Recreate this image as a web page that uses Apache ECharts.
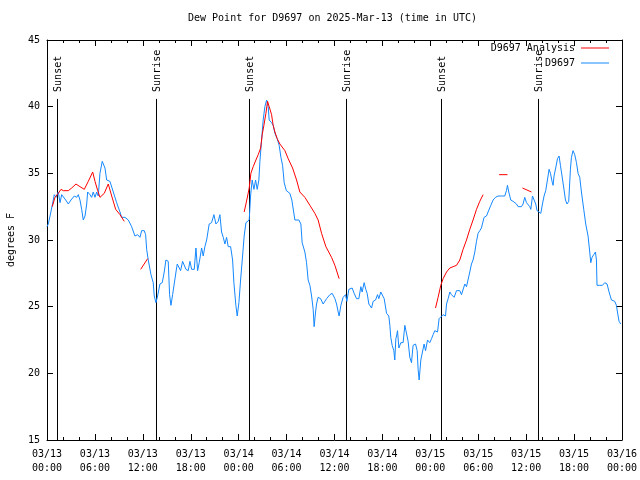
<!DOCTYPE html>
<html><head><meta charset="utf-8">
<script src="https://cdn.jsdelivr.net/npm/echarts@6/dist/echarts.min.js"></script>
<style>html,body{margin:0;padding:0;background:#fff}#c{width:640px;height:480px}</style>
</head><body><div id="c"></div>
<script>
// hours since 2025-03-13 00:00 UTC
const blueHours = [0.0,0.16,0.38,0.59,0.79,0.91,1.13,1.41,1.63,1.84,2.04,2.34,2.67,3.00,3.42,3.72,3.92,4.13,4.34,4.54,4.76,4.97,5.09,5.38,5.59,5.79,6.01,6.22,6.42,6.63,6.92,7.26,7.47,7.88,8.30,8.72,9.14,9.35,9.76,10.18,10.60,11.01,11.35,11.64,11.85,12.18,12.35,12.48,12.68,13.02,13.30,13.43,13.64,13.85,14.14,14.43,14.68,14.89,15.18,15.35,15.52,15.73,15.93,16.15,16.31,16.56,16.73,16.98,17.15,17.40,17.68,17.90,18.11,18.44,18.65,18.86,19.06,19.36,19.56,19.77,19.99,20.31,20.61,20.90,21.15,21.44,21.65,21.86,22.07,22.28,22.49,22.69,22.99,23.24,23.40,23.65,23.82,24.03,24.24,24.49,24.69,24.91,25.07,25.32,25.49,25.69,25.91,26.12,26.32,26.53,26.66,26.87,27.07,27.28,27.50,27.70,27.82,28.12,28.32,28.54,28.82,29.07,29.29,29.50,29.70,29.97,30.41,30.66,31.04,31.25,31.54,31.79,31.95,32.29,32.50,32.70,32.92,33.13,33.33,33.45,33.63,33.75,33.95,34.26,34.58,35.01,35.42,35.71,36.05,36.26,36.46,36.58,36.80,37.08,37.38,37.55,37.80,38.21,38.46,38.76,39.05,39.30,39.46,39.71,39.92,40.09,40.30,40.64,40.84,41.14,41.39,41.55,41.80,41.96,42.22,42.52,42.80,42.93,43.05,43.22,43.43,43.55,43.68,43.77,43.89,44.06,44.31,44.59,44.81,45.02,45.22,45.43,45.64,45.84,46.15,46.35,46.47,46.60,46.81,47.02,47.22,47.40,47.65,47.93,48.15,48.35,48.56,48.90,49.10,49.31,49.60,49.90,50.03,50.23,50.44,50.65,50.98,51.28,51.69,51.90,52.10,52.32,52.53,52.73,52.94,53.15,53.35,53.57,53.78,53.98,54.19,54.40,54.61,54.73,55.03,55.23,55.57,55.86,56.16,56.48,56.91,57.32,57.53,57.66,57.82,58.07,58.36,58.79,58.99,59.41,59.61,59.82,60.04,60.24,60.45,60.58,60.79,60.99,61.20,61.36,61.61,61.83,62.04,62.24,62.45,62.62,62.74,62.87,63.04,63.24,63.37,63.49,63.70,63.92,64.12,64.29,64.49,64.71,64.92,65.12,65.33,65.54,65.67,65.87,66.08,66.30,66.50,66.71,66.92,67.21,67.46,67.75,67.96,68.09,68.25,68.46,68.67,68.80,68.87,69.21,69.55,69.84,70.13,70.38,70.68,71.09,71.30,71.43,71.63,71.84];
const blueDew = [31.0,31.2,31.8,31.9,33.0,33.4,33.2,33.6,32.8,33.4,33.4,33.0,32.7,33.0,33.3,33.2,33.4,33.0,32.3,31.5,31.8,32.7,33.6,33.4,33.2,33.6,33.2,33.6,33.3,35.0,35.9,35.4,34.5,34.4,33.6,32.8,32.1,31.7,31.7,31.5,31.0,30.3,30.4,30.2,30.7,30.7,30.4,29.3,28.5,27.4,26.8,25.8,25.3,25.8,26.7,26.8,27.6,28.5,28.4,25.9,25.1,25.9,25.9,27.6,28.2,28.2,27.7,28.4,28.5,27.8,27.7,28.4,27.8,27.8,29.4,27.7,28.3,29.4,28.8,29.5,30.0,31.2,31.3,31.9,31.2,31.4,31.9,30.6,30.2,29.7,30.2,29.5,29.5,28.5,26.8,25.1,24.3,25.3,27.0,28.8,30.3,31.3,31.4,31.5,33.3,34.5,33.8,34.5,33.8,34.5,35.9,37.5,39.0,40.0,40.5,40.0,39.0,38.8,38.6,38.0,37.6,37.1,36.2,35.6,34.3,33.7,33.5,33.0,31.5,31.4,31.5,31.2,29.8,29.1,28.3,27.0,26.6,25.8,24.8,23.5,24.6,25.2,25.7,25.6,25.2,25.6,25.9,26.0,25.6,25.2,24.6,24.3,25.1,25.7,25.9,25.4,26.3,26.4,26.0,25.6,25.6,26.5,26.1,26.8,26.3,26.0,25.2,24.9,25.4,25.5,25.9,25.6,26.1,26.1,25.6,24.5,24.3,23.6,22.7,22.1,21.7,21.0,22.6,22.8,23.2,21.9,22.3,22.3,23.6,23.7,22.4,21.2,20.8,22.1,22.2,21.7,20.3,19.5,21.0,20.9,22.2,21.7,22.5,22.3,22.6,22.9,23.2,23.1,24.1,24.2,24.4,24.3,25.2,25.6,26.1,25.9,25.7,26.2,26.2,25.9,25.8,26.7,26.5,26.6,27.6,28.2,28.5,29.1,29.9,30.5,30.7,30.9,31.0,31.7,31.8,32.1,32.6,33.0,33.2,33.3,33.3,33.3,33.7,34.1,33.6,33.0,32.9,32.7,32.5,32.5,32.7,33.2,32.8,32.7,32.5,32.3,33.3,33.2,32.7,32.2,32.2,32.0,32.7,33.3,33.7,33.8,34.8,35.3,35.0,34.4,34.1,34.8,35.4,36.1,36.3,35.6,34.8,33.9,33.0,32.7,32.9,35.3,36.2,36.7,36.4,35.8,35.0,34.7,33.6,32.3,31.2,30.3,29.1,28.3,28.7,28.9,29.1,28.5,26.6,26.6,26.6,26.8,26.7,26.1,25.5,25.4,25.1,24.6,23.9,23.7];

const red1Hours = [0.66,1.00,1.41,1.75,2.04,2.67,3.09,3.63,4.13,4.67,5.17,5.72,6.01,6.35,6.63,7.17,7.67,8.10,8.60,9.14,9.67];
const red1Dew   = [32.5,33.2,33.5,33.8,33.7,33.7,33.9,34.2,34.0,33.8,34.4,35.1,34.4,33.7,33.2,33.5,34.2,33.3,32.3,31.9,31.4];
const red2Hours = [11.73,12.60];
const red2Dew   = [27.8,28.6];
const red3Hours = [24.69,24.91,25.12,25.32,25.53,25.82,26.16,26.45,26.75,26.95,27.16,27.41,27.62,27.82,28.12,28.32,28.54,28.82,29.16,29.79,30.20,30.75,31.25,31.66,32.29,32.92,33.54,33.95,34.38,34.92,35.63,36.05,36.58];
const red3Dew   = [32.1,32.7,33.3,33.9,35.0,35.5,36.0,36.4,36.9,37.9,38.6,39.5,40.4,40.0,39.4,38.6,38.1,37.6,37.2,36.7,36.1,35.4,34.5,33.6,33.2,32.6,32.0,31.5,30.5,29.5,28.7,28.1,27.1];
const red4Hours = [48.65,48.97,49.31,49.60,50.03,50.44,50.85,51.28,51.69,52.10,52.53,52.94,53.35,53.78,54.19,54.61];
const red4Dew   = [24.9,25.7,26.6,27.1,27.6,27.9,28.0,28.1,28.5,29.3,30.0,30.8,31.5,32.3,32.9,33.4];
const red5Hours = [56.61,57.66];
const red5Dew   = [34.9,34.9];
const red6Hours = [59.54,60.66];
const red6Dew   = [33.9,33.6];

const sunHours  = [1.29,13.6,25.3,37.5,49.35,61.5];
const sunLabels = ['Sunset','Sunrise','Sunset','Sunrise','Sunset','Sunrise'];
const sunLineTop = 40.58;

const yTicks = {min:15, max:45, step:5};
const xTicks = {min:0, max:72, step:6};
const titleText = 'Dew Point for D9697 on 2025-Mar-13 (time in UTC)';

const FONT = '"DejaVu Sans Mono", monospace';

const zip = (a,b) => a.map((v,i)=>[v,b[i]]);
const redSegs = [[red1Hours,red1Dew],[red2Hours,red2Dew],[red3Hours,red3Dew],[red4Hours,red4Dew],[red5Hours,red5Dew],[red6Hours,red6Dew]];
const redData = [];
redSegs.forEach((s,i)=>{ if(i>0) redData.push([s[0][0]-0.01, null]); zip(s[0],s[1]).forEach(p=>redData.push(p)); });

function xLabel(v){
  const day = 13 + Math.floor(v/24);
  const hr = Math.round(v % 24);
  const pad = n => (n<10?'0':'')+n;
  return '03/' + pad(day) + '\n' + pad(hr) + ':00';
}

const axisCommon = {
  axisLine:{show:true,onZero:false,lineStyle:{color:'#000',width:1}},
  axisTick:{show:true,inside:true,length:6,lineStyle:{color:'#000',width:1}},
  splitLine:{show:false}
};

const chart = echarts.init(document.getElementById('c'), null, {renderer:'canvas'});
chart.setOption({
  animation:false,
  backgroundColor:'#fff',
  title:{text:titleText,left:188,top:13,textStyle:{fontFamily:FONT,fontSize:10,fontWeight:'normal',color:'#000'},padding:0},
  legend:{
    orient:'vertical',align:'right',right:26,top:38,itemWidth:28,itemHeight:1,itemGap:5,icon:'rect',
    textStyle:{fontFamily:FONT,fontSize:10,color:'#000',padding:[0,1,0,0],lineHeight:10},
    data:['D9697 Analysis','D9697']
  },
  grid:{left:47,right:18,top:40,bottom:40,containLabel:false,outerBoundsMode:'none'},
  xAxis:[
    Object.assign({type:'value',min:xTicks.min,max:xTicks.max,interval:xTicks.step,position:'bottom',
      minorTick:{show:true,splitNumber:3,length:3,lineStyle:{color:'#000',width:1}},
      axisLabel:{formatter:xLabel,color:'#000',fontFamily:FONT,fontSize:10,lineHeight:14,margin:7,showMinLabel:true,showMaxLabel:true}},axisCommon),
    Object.assign({type:'value',min:xTicks.min,max:xTicks.max,interval:xTicks.step,position:'top',
      minorTick:{show:true,splitNumber:3,length:3,lineStyle:{color:'#000',width:1}},
      axisLabel:{show:false}},axisCommon)
  ],
  yAxis:[
    Object.assign({type:'value',min:yTicks.min,max:yTicks.max,interval:yTicks.step,position:'left',
      name:'degrees F',nameLocation:'middle',nameGap:31,nameRotate:90,
      nameTextStyle:{fontFamily:FONT,fontSize:10,color:'#000'},
      axisLabel:{color:'#000',fontFamily:FONT,fontSize:10,margin:7}},axisCommon),
    Object.assign({type:'value',min:yTicks.min,max:yTicks.max,interval:yTicks.step,position:'right',
      axisLabel:{show:false}},axisCommon)
  ],
  series:[
    {
      type:'custom',name:'sun',xAxisIndex:0,yAxisIndex:0,silent:true,z:1,
      data:sunHours.map(h=>[h,sunLineTop]),
      renderItem:function(params,api){
        const t = api.value(0);
        const top = api.coord([t,sunLineTop]);
        const bot = api.coord([t,yTicks.min]);
        const x = Math.round(top[0])+0.5;
        return {type:'group',children:[
          {type:'line',shape:{x1:x,y1:top[1],x2:x,y2:bot[1]},style:{stroke:'#000',lineWidth:1}},
          {type:'text',x:x+1,y:top[1]-7,rotation:Math.PI/2,
           style:{text:sunLabels[params.dataIndex],font:'10px '+FONT,fill:'#000',align:'left',verticalAlign:'middle'}}
        ]};
      }
    },
    {
      type:'line',name:'D9697 Analysis',xAxisIndex:0,yAxisIndex:0,data:redData,
      symbol:'none',connectNulls:false,z:3,
      lineStyle:{color:'#ff0000',width:1},itemStyle:{color:'#ff0000'}
    },
    {
      type:'line',name:'D9697',xAxisIndex:0,yAxisIndex:0,data:zip(blueHours,blueDew),
      symbol:'none',z:2,
      lineStyle:{color:'#1488ff',width:1},itemStyle:{color:'#1488ff'}
    }
  ]
});
</script></body></html>
